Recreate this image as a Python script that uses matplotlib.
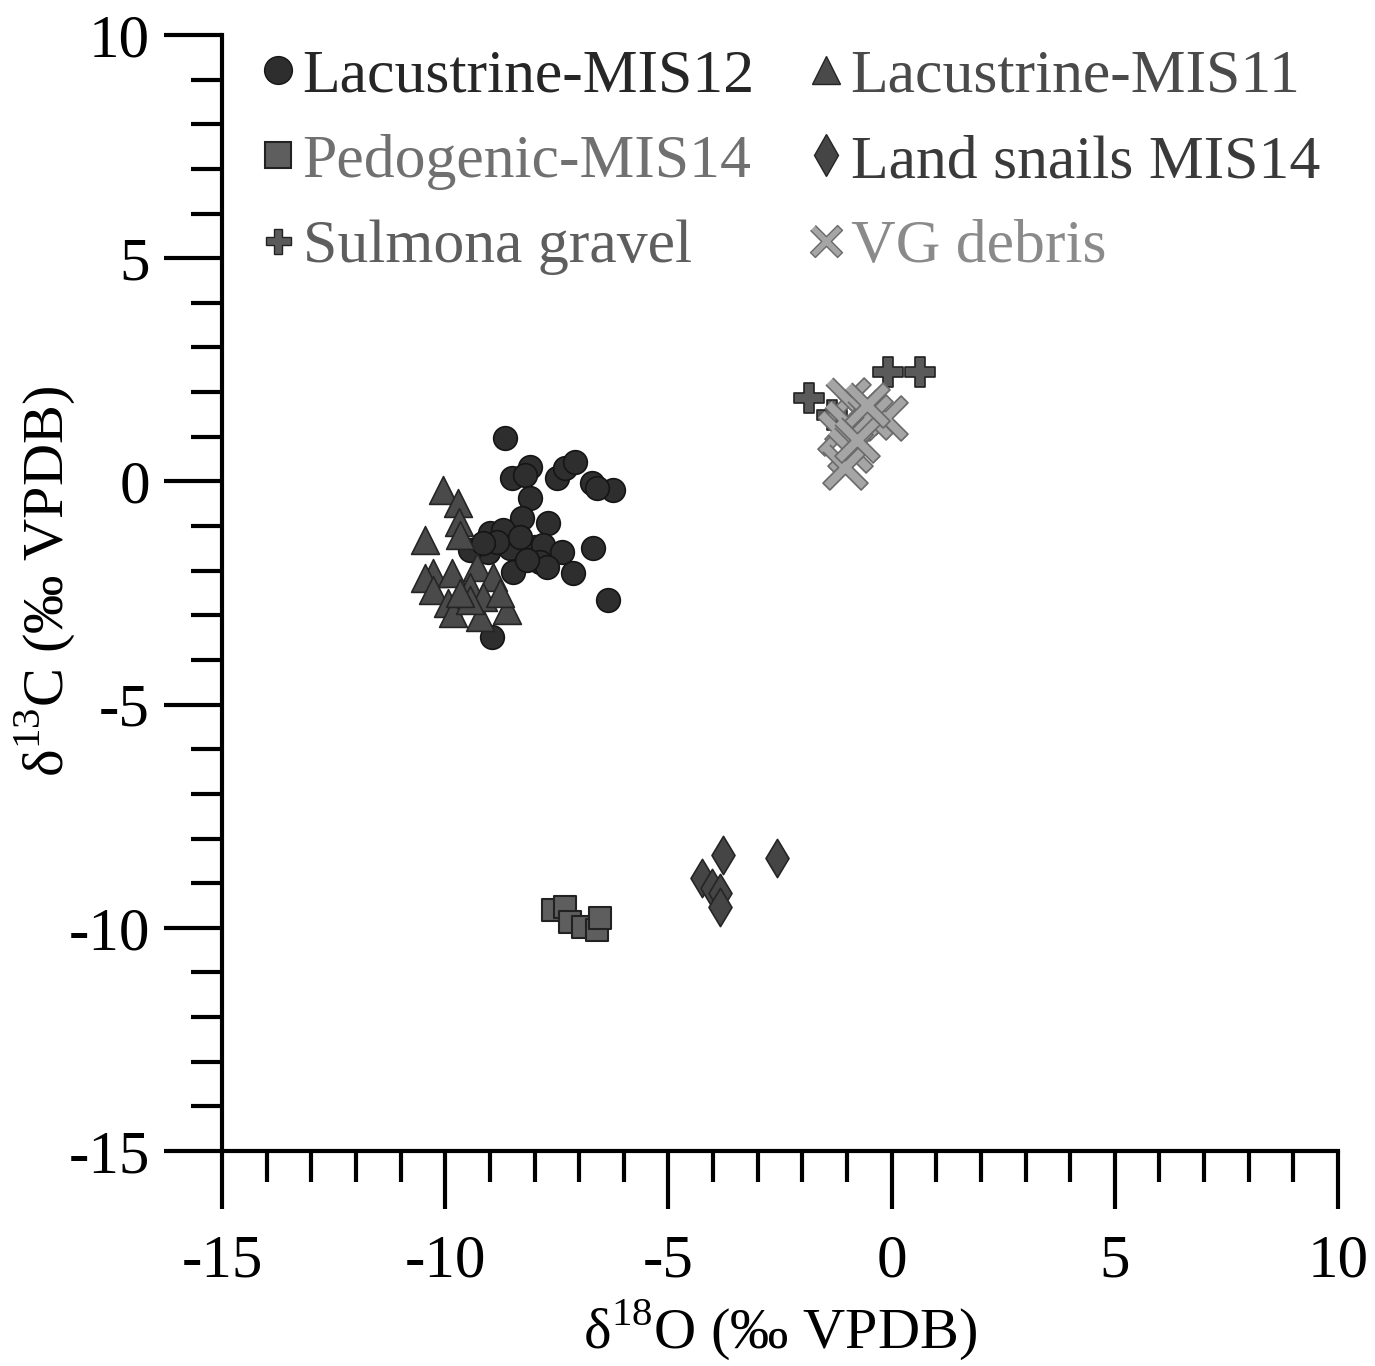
import numpy as np
import matplotlib
matplotlib.use("Agg")
import matplotlib.pyplot as plt
from matplotlib.lines import Line2D

plt.rcParams['font.family'] = ['Liberation Serif', 'DejaVu Serif']
plt.rcParams['mathtext.fontset'] = 'custom'
plt.rcParams['mathtext.rm'] = 'Liberation Serif'
plt.rcParams['axes.unicode_minus'] = False

# --- data (d18O, d13C) ---
lac12_x = [-8.66, -8.10, -8.51, -8.21, -7.50, -7.32, -7.09, -6.71, -6.24, -6.60,
           -8.10, -8.28, -7.70, -9.00, -8.70, -8.55, -9.04, -9.44, -8.00, -7.80,
           -7.38, -6.68, -8.48, -7.87, -7.13, -6.35, -8.96, -8.85, -8.32, -7.72,
           -9.15, -8.17]
lac12_y = [0.97, 0.32, 0.08, 0.14, 0.08, 0.30, 0.43, -0.04, -0.19, -0.15,
           -0.37, -0.82, -0.93, -1.16, -1.10, -1.49, -1.58, -1.54, -1.47, -1.42,
           -1.58, -1.49, -2.03, -1.81, -2.06, -2.66, -3.48, -1.35, -1.24, -1.91,
           -1.38, -1.76]

lac11_x = [-10.05, -9.71, -9.69, -9.67, -10.45, -10.27, -10.45, -9.85, -9.29, -8.93,
           -9.44, -10.27, -9.94, -9.83, -9.22, -8.62, -9.15, -8.77, -9.44, -9.67]
lac11_y = [-0.19, -0.49, -0.91, -1.20, -1.31, -2.06, -2.17, -2.06, -1.91, -2.14,
           -2.37, -2.44, -2.73, -2.95, -3.04, -2.88, -2.59, -2.50, -2.66, -2.50]

ped_x = [-7.58, -7.32, -7.20, -6.91, -6.60, -6.53]
ped_y = [-9.60, -9.53, -9.87, -9.98, -10.05, -9.78]

snail_x = [-3.77, -4.25, -4.03, -3.84, -3.84, -2.57]
snail_y = [-8.37, -8.88, -9.10, -9.22, -9.53, -8.44]

sulm_x = [-1.85, -0.08, 0.64, -1.33]
sulm_y = [1.86, 2.45, 2.45, 1.49]

vg_x = [-0.97, -0.71, -0.15, -1.00, -0.48, -1.16, -0.94, -1.04, -0.55, -0.77]
vg_y = [1.83, 1.56, 1.42, 1.31, 1.44, 1.08, 0.71, 0.33, 1.71, 0.93]

labels = ['Lacustrine-MIS12', 'Lacustrine-MIS11', 'Pedogenic-MIS14',
          'Land snails MIS14', 'Sulmona gravel', 'VG debris']
label_colors = ['#262626', '#4a4a4a', '#707070', '#3a3a3a', '#5e5e5e', '#8a8a8a']

# thin "X" marker, a plus rotated by 45 degrees
t, L = 0.09, 0.5
plus = np.array([(t, L), (t, t), (L, t), (L, -t), (t, -t), (t, -L), (-t, -L),
                 (-t, -t), (-L, -t), (-L, t), (-t, t), (-t, L)])
c = np.cos(np.pi / 4)
xmark = [(c * (px - py), c * (px + py)) for px, py in plus]

fig = plt.figure(figsize=(13.75, 13.66), dpi=100)
ax = fig.add_axes([0.1615, 0.1574, 0.8116, 0.8170])

ax.scatter(lac12_x, lac12_y, s=290, marker='o', fc='#2e2e2e', ec='#151515', lw=1.2, zorder=3)
ax.scatter(lac11_x, lac11_y, s=400, marker='^', fc='#4a4a4a', ec='#252525', lw=1.2, zorder=4)
ax.scatter(ped_x, ped_y, s=260, marker='s', fc='#5e5e5e', ec='#222222', lw=1.5, zorder=3)
ax.scatter(snail_x, snail_y, s=380, marker='d', fc='#454545', ec='#252525', lw=1.2, zorder=3)
ax.scatter(sulm_x, sulm_y, s=440, marker='P', fc='#5a5a5a', ec='#222222', lw=1.2, zorder=3)
ax.scatter(vg_x, vg_y, s=1050, marker=xmark, fc='#a5a5a5', ec='#6a6a6a', lw=1.2, zorder=4)

ax.set_xlim(-15, 10)
ax.set_ylim(-15, 10)
ax.set_xticks(np.arange(-15, 11, 5))
ax.set_yticks(np.arange(-15, 11, 5))
ax.set_xticks(np.arange(-15, 11, 1), minor=True)
ax.set_yticks(np.arange(-15, 11, 1), minor=True)

for side in ['top', 'right']:
    ax.spines[side].set_visible(False)
for side in ['left', 'bottom']:
    ax.spines[side].set_linewidth(3)

ax.tick_params(which='major', direction='out', length=42, width=3, labelsize=44, color='black')
ax.tick_params(which='minor', direction='out', length=22, width=3)
ax.tick_params(axis='x', which='major', pad=18)
ax.tick_params(axis='y', which='major', pad=10)

ax.set_xlabel('δ$^{18}$O (‰ VPDB)', fontsize=42)
ax.set_ylabel('δ$^{13}$C (‰ VPDB)', fontsize=42)
ax.xaxis.label.set_verticalalignment('center')
ax.yaxis.label.set_verticalalignment('center')
ax.xaxis.set_label_coords(0.5, -0.160)
ax.yaxis.set_label_coords(-0.159, 0.51)

# legend, filled column by column
handles = [
    Line2D([], [], ls='none', marker='o', ms=20, mfc='#2e2e2e', mec='#151515'),
    Line2D([], [], ls='none', marker='^', ms=20, mfc='#4a4a4a', mec='#252525'),
    Line2D([], [], ls='none', marker='s', ms=19, mfc='#5e5e5e', mec='#222222', mew=1.5),
    Line2D([], [], ls='none', marker='d', ms=21, mfc='#454545', mec='#252525'),
    Line2D([], [], ls='none', marker='P', ms=18, mfc='#5a5a5a', mec='#222222'),
    Line2D([], [], ls='none', marker=xmark, ms=23, mfc='#a5a5a5', mec='#6a6a6a'),
]
order = [0, 2, 4, 1, 3, 5]
leg = ax.legend([handles[i] for i in order], [labels[i] for i in order],
                ncol=2, loc='upper left', bbox_to_anchor=(0.014, 1.01),
                frameon=False, fontsize=44.5, handlelength=0.5, handletextpad=0.15,
                columnspacing=0.9, labelspacing=0.47, borderaxespad=0)
for txt, i in zip(leg.get_texts(), order):
    txt.set_color(label_colors[i])

fig.savefig('out.png', dpi=100)
